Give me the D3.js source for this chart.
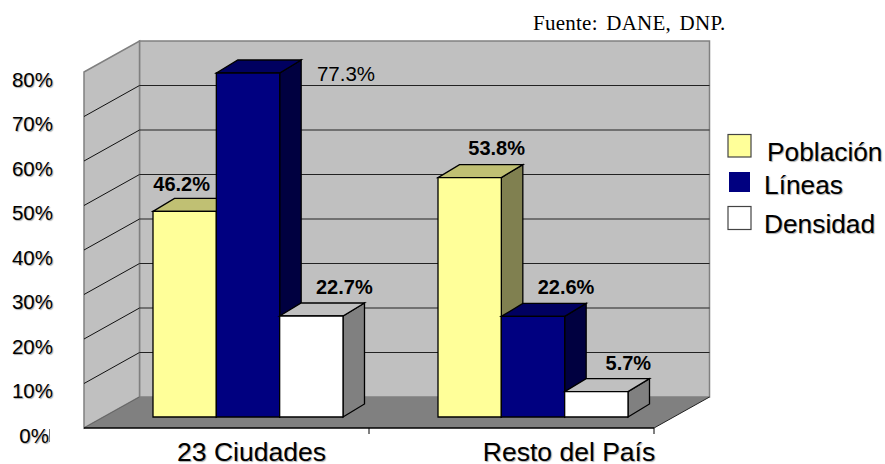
<!DOCTYPE html>
<html>
<head>
<meta charset="utf-8">
<script src="https://cdn.jsdelivr.net/npm/d3@7"></script>
<style>
html,body{margin:0;padding:0;background:#fff}
text{font-family:"Liberation Sans",Arial,sans-serif;fill:#000}
.soft{text-shadow:1px 1px 1px #aaa}
</style>
</head>
<body>
<svg id="svg1" width="885" height="464"></svg>
<script>
var categories = ["23 Ciudades","Resto del País"]
var seriesNames = ["Población","Líneas","Densidad"]
var poblacion = [46.2,53.8]
var lineas = [77.3,22.6]
var densidad = [22.7,5.7]
var yTicks = [0,10,20,30,40,50,60,70,80]

var seriesValues = [poblacion,lineas,densidad]

// front, top, side shades of each series
var colors = [
  ["#FFFF99","#C0C073","#808050"],
  ["#000080","#000060","#000040"],
  ["#FFFFFF","#C0C0C0","#808080"]
]

var svg = d3.select("#svg1")

// scales live on the front plane of the box
var y = d3.scaleLinear().domain([0,80]).range([428,72])
var x = d3.scaleBand().domain(categories).range([84,654])
var xBar = d3.scaleBand().domain(d3.range(3)).range([0,190])

var wallDx = 55.5, wallDy = -31    // depth of the whole box
var barInX = 20, barInY = -11      // bars stand this far in from the front
var barDx = 21.5, barDy = -13      // depth of one bar
var left = x.range()[0], right = x.range()[1]

function poly(pts,fill,stroke,sw){
  svg.append("polygon")
     .attr("points",pts.map(p=>p.join(",")).join(" "))
     .attr("fill",fill)
     .attr("stroke",stroke||"none")
     .attr("stroke-width",sw||1)
}
function line(x1,y1,x2,y2,stroke,sw){
  svg.append("line")
     .attr("x1",x1).attr("y1",y1).attr("x2",x2).attr("y2",y2)
     .attr("stroke",stroke).attr("stroke-width",sw||1)
}

// walls and floor
poly([[left+wallDx,y(80)+wallDy],[right+wallDx,y(80)+wallDy],[right+wallDx,y(0)+wallDy],[left+wallDx,y(0)+wallDy]],"#C0C0C0","#808080",1.5)
poly([[left,y(80)],[left+wallDx,y(80)+wallDy],[left+wallDx,y(0)+wallDy],[left,y(0)]],"#C0C0C0","#808080",1.5)
poly([[left,y(0)],[left+wallDx,y(0)+wallDy],[right+wallDx,y(0)+wallDy],[right,y(0)]],"#808080")

// gridlines
yTicks.filter(d=>d>0 && d<80).forEach(function(d){
  line(left,y(d),left+wallDx,y(d)+wallDy,"#111")
  line(left+wallDx,y(d)+wallDy,right+wallDx,y(d)+wallDy,"#222")
})
line(left,y(0),left+wallDx,y(0)+wallDy,"#666")
line(right,y(0),right+wallDx,y(0)+wallDy,"#222")
line(left,y(0),right,y(0),"#000",1.5)

// category ticks
line(x(categories[1]),y(0),x(categories[1]),y(0)+6,"#000")
line(right,y(0),right,y(0)+6,"#000")
line(49.5,y(0)+1,49.5,y(0)+14,"#777")

// bars
var groupPad = (x.bandwidth()-xBar.range()[1])/2
var base = y(0)+barInY

function barFront(c){ return x(categories[c])+barInX+groupPad+1.5 }

categories.forEach(function(cat,c){
  seriesValues.forEach(function(vals,s){
    var x0 = barFront(c)+xBar(s), x1 = x0+xBar.bandwidth()
    var top = y(vals[c])+barInY
    poly([[x1,base],[x1+barDx,base+barDy],[x1+barDx,top+barDy],[x1,top]],colors[s][2],"#000",1.3)
    poly([[x0,top],[x0+barDx,top+barDy],[x1+barDx,top+barDy],[x1,top]],colors[s][1],"#000",1.3)
    poly([[x0,base],[x1,base],[x1,top],[x0,top]],colors[s][0],"#000",1.3)
  })
})

// value labels, moved by hand off each bar like in the original
var labelShift = [
  [[-3,-20.5],[98,8],[33,-22]],
  [[27,-23],[33,-22],[32,-22]]
]
categories.forEach(function(cat,c){
  seriesValues.forEach(function(vals,s){
    var isPlain = c==0 && s==1
    svg.append("text")
       .attr("x",barFront(c)+xBar(s)+xBar.bandwidth()/2+labelShift[c][s][0])
       .attr("y",y(vals[c])+barInY+labelShift[c][s][1])
       .attr("text-anchor","middle")
       .style("font-size",isPlain?"20.5px":"20px")
       .style("font-weight",isPlain?"normal":"bold")
       .text(vals[c].toFixed(1)+"%")
  })
})

// y axis labels
yTicks.forEach(function(d){
  svg.append("text")
     .attr("class","soft")
     .attr("x",d==0?49:53)
     .attr("y",y(d)+14.5)
     .attr("text-anchor","end")
     .style("font-size","20.5px")
     .text(d+"%")
})

// category labels
var categoryShift = [25,57.5]
categories.forEach(function(cat,c){
  svg.append("text")
     .attr("class","soft")
     .attr("x",x(cat)+x.bandwidth()/2+categoryShift[c])
     .attr("y",461)
     .attr("text-anchor","middle")
     .style("font-size","26.5px")
     .text(cat)
})

// legend
var legendBox = [[728,134.5,23,22.5],[729,172,21,20],[728,206.5,23,23]]
var legendText = [[767,161],[764,194],[764,233]]
seriesNames.forEach(function(name,i){
  svg.append("rect")
     .attr("x",legendBox[i][0]).attr("y",legendBox[i][1])
     .attr("width",legendBox[i][2]).attr("height",legendBox[i][3])
     .attr("fill",colors[i][0])
     .attr("stroke",i==1?"none":"#444")
     .attr("stroke-width",1.2)
  svg.append("text")
     .attr("class","soft")
     .attr("x",legendText[i][0]).attr("y",legendText[i][1])
     .style("font-size","26.3px")
     .text(name)
})

svg.append("text")
   .attr("x",533).attr("y",30)
   .style("font-family","'Liberation Serif',serif")
   .style("font-size","21px")
   .style("word-spacing","3px")
   .style("letter-spacing","0.25px")
   .text("Fuente: DANE, DNP.")
</script>
</body>
</html>
